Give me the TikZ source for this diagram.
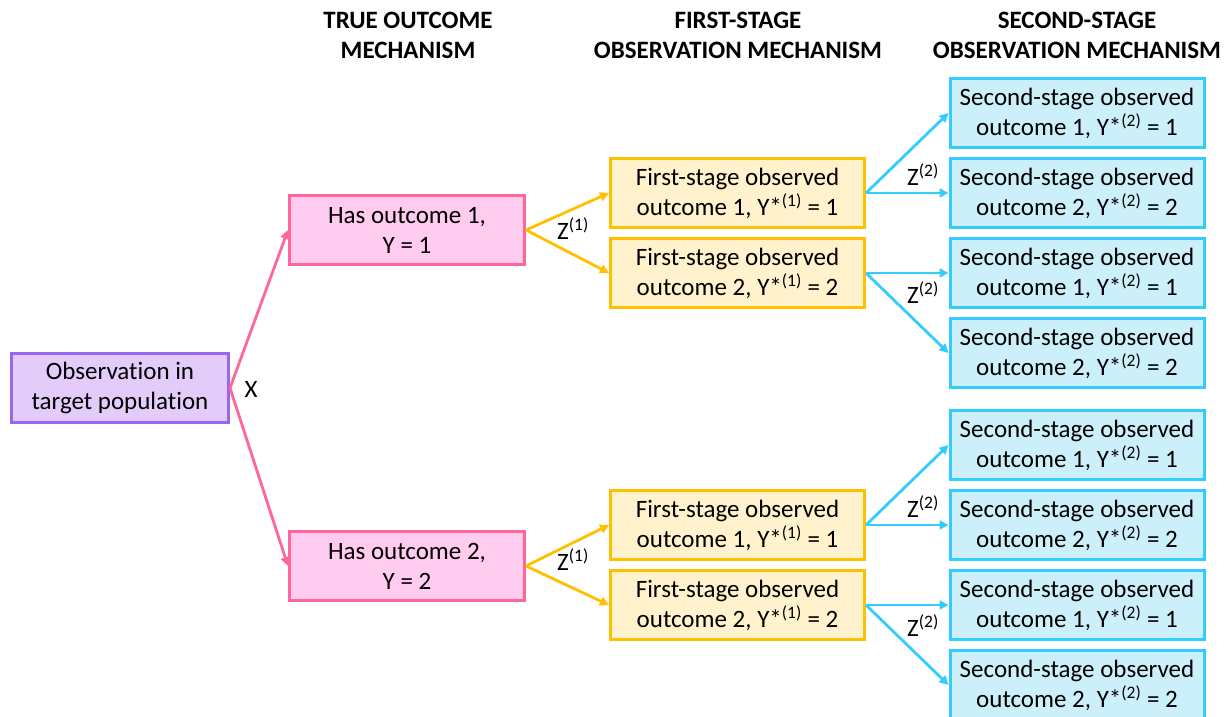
\documentclass[tikz,border=0pt]{standalone}
\usepackage{fontspec}
\setmainfont{Carlito}[Ligatures=NoCommon]
\usetikzlibrary{arrows.meta}
\definecolor{purpfill}{HTML}{E3CCFA}
\definecolor{purpline}{HTML}{9966F0}
\definecolor{pinkfill}{HTML}{FFCCF0}
\definecolor{pinkline}{HTML}{FF6699}
\definecolor{goldfill}{HTML}{FFF2CC}
\definecolor{goldline}{HTML}{FFC000}
\definecolor{bluefill}{HTML}{CCF0FA}
\definecolor{blueline}{HTML}{33CCFF}
\tikzset{
  box/.style={draw, line width=3pt, inner sep=0pt, align=center, minimum height=69pt,
    font=\fontsize{25}{30}\selectfont},
  rootbox/.style={box, fill=purpfill, draw=purpline, minimum width=217pt},
  truebox/.style={box, fill=pinkfill, draw=pinkline, minimum width=235pt},
  firstbox/.style={box, fill=goldfill, draw=goldline, minimum width=254pt},
  secondbox/.style={box, fill=bluefill, draw=blueline, minimum width=254pt},
  arr/.style={line width=2.8pt, -{Triangle[length=9pt,width=9pt]}},
  hdr/.style={align=center, font=\fontsize{25}{30}\selectfont\bfseries},
  lbl/.style={font=\fontsize{25}{25}\selectfont, inner sep=0pt}
}
\begin{document}
\begin{tikzpicture}[x=1pt,y=-1pt]
\useasboundingbox (0,0) rectangle (1231,717);
% headers
\node[hdr] (h1) at (408,35) {TRUE OUTCOME\\MECHANISM};
\node[hdr] (h2) at (738,35) {FIRST-STAGE\\OBSERVATION MECHANISM};
\node[hdr] (h3) at (1077,35) {SECOND-STAGE\\OBSERVATION MECHANISM};
% nodes
\node[rootbox] (r) at (120,388) {Observation in\\target population};
\node[truebox] (t1) at (407,230) {Has outcome 1,\\Y = 1};
\node[truebox] (t2) at (407,566) {Has outcome 2,\\Y = 2};
\node[firstbox] (f1) at (737.5,193) {First-stage observed\\outcome 1, Y*\textsuperscript{(1)} = 1};
\node[firstbox] (f2) at (737.5,273) {First-stage observed\\outcome 2, Y*\textsuperscript{(1)} = 2};
\node[firstbox] (f3) at (737.5,525) {First-stage observed\\outcome 1, Y*\textsuperscript{(1)} = 1};
\node[firstbox] (f4) at (737.5,605) {First-stage observed\\outcome 2, Y*\textsuperscript{(1)} = 2};
\node[secondbox] (s1) at (1077,113) {Second-stage observed\\outcome 1, Y*\textsuperscript{(2)} = 1};
\node[secondbox] (s2) at (1077,193) {Second-stage observed\\outcome 2, Y*\textsuperscript{(2)} = 2};
\node[secondbox] (s3) at (1077,273) {Second-stage observed\\outcome 1, Y*\textsuperscript{(2)} = 1};
\node[secondbox] (s4) at (1077,353) {Second-stage observed\\outcome 2, Y*\textsuperscript{(2)} = 2};
\node[secondbox] (s5) at (1077,445) {Second-stage observed\\outcome 1, Y*\textsuperscript{(2)} = 1};
\node[secondbox] (s6) at (1077,525) {Second-stage observed\\outcome 2, Y*\textsuperscript{(2)} = 2};
\node[secondbox] (s7) at (1077,605) {Second-stage observed\\outcome 1, Y*\textsuperscript{(2)} = 1};
\node[secondbox] (s8) at (1077,685) {Second-stage observed\\outcome 2, Y*\textsuperscript{(2)} = 2};
% connectors
\draw[arr, pinkline] (r.east) -- (t1.west);
\draw[arr, pinkline] (r.east) -- (t2.west);
\draw[arr, goldline] (t1.east) -- (f1.west);
\draw[arr, goldline] (t1.east) -- (f2.west);
\draw[arr, goldline] (t2.east) -- (f3.west);
\draw[arr, goldline] (t2.east) -- (f4.west);
\draw[arr, blueline] (f1.east) -- (s1.west);
\draw[arr, blueline] (f1.east) -- (s2.west);
\draw[arr, blueline] (f2.east) -- (s3.west);
\draw[arr, blueline] (f2.east) -- (s4.west);
\draw[arr, blueline] (f3.east) -- (s5.west);
\draw[arr, blueline] (f3.east) -- (s6.west);
\draw[arr, blueline] (f4.east) -- (s7.west);
\draw[arr, blueline] (f4.east) -- (s8.west);
% labels
\node[lbl] (lx) at (251,389) {X};
\node[lbl] (lz1) at (573,229) {Z\textsuperscript{(1)}};
\node[lbl] (lz2) at (573,560) {Z\textsuperscript{(1)}};
\node[lbl] (lz3) at (923,175) {Z\textsuperscript{(2)}};
\node[lbl] (lz4) at (923,293) {Z\textsuperscript{(2)}};
\node[lbl] (lz5) at (923,507) {Z\textsuperscript{(2)}};
\node[lbl] (lz6) at (923,626) {Z\textsuperscript{(2)}};
\end{tikzpicture}
\end{document}
